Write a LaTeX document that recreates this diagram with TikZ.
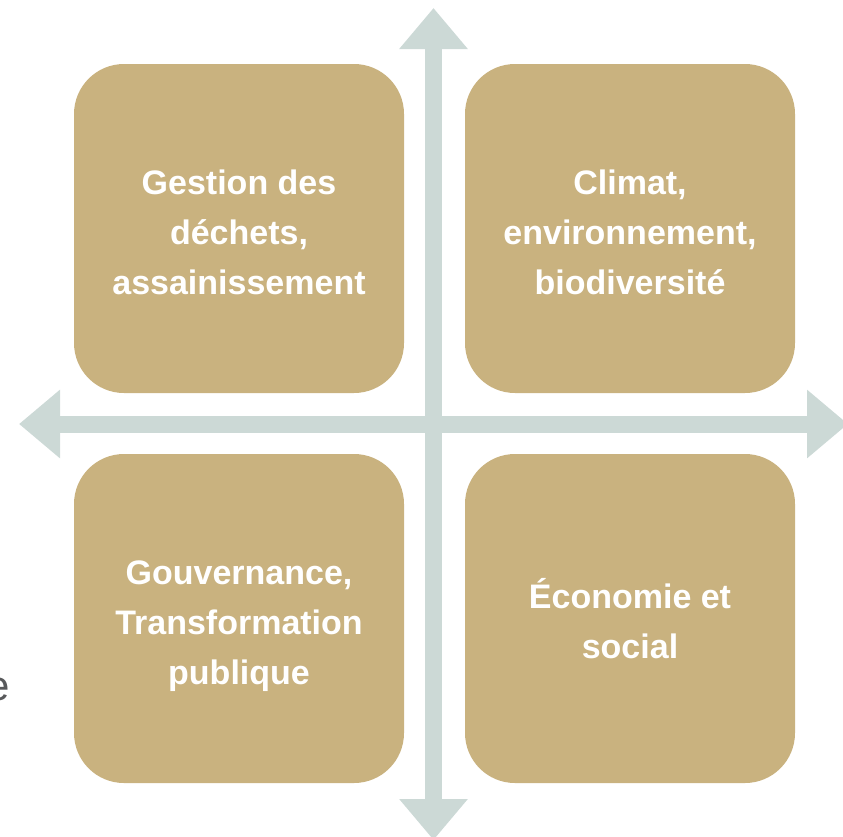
\documentclass[tikz,border=0pt]{standalone}
\usepackage{fontspec}
\setmainfont{Liberation Sans}
\usetikzlibrary{arrows.meta}
\definecolor{boxgold}{HTML}{C9B27F}
\definecolor{axisgray}{HTML}{CCD9D6}
\definecolor{textgray}{HTML}{58595B}
\newcommand\myup[1]{\rule{0pt}{#1}}
\tikzset{
  quad/.style={fill=boxgold, draw=none, rounded corners=50pt, minimum width=330pt, minimum height=329pt,
    text=white, font=\bfseries\fontsize{34}{50}\selectfont, align=center, inner sep=0pt},
  axis/.style={draw=axisgray, line width=17pt, {Triangle[width=66pt,length=41pt]}-{Triangle[width=66pt,length=41pt]}}
}
\begin{document}
\begin{tikzpicture}[x=1pt,y=-1pt]
\useasboundingbox (0,0) rectangle (843,836);
\clip (0,0) rectangle (843,836);
\coordinate (top) at (433.5,8);
\coordinate (bottom) at (433.5,840);
\coordinate (left) at (19,424);
\coordinate (right) at (848,424);
\draw[axis] (top) -- (bottom);
\draw[axis] (left) -- (right);
\node[quad] (q1) at (239,228.5) {\myup{32pt}Gestion des\\déchets,\\assainissement};
\node[quad] (q2) at (630,228.5) {\myup{32pt}Climat,\\environnement,\\biodiversité};
\node[quad] (q3) at (239,618.5) {\myup{40pt}Gouvernance,\\Transformation\\publique};
\node[quad] (q4) at (630,618.5) {Économie et\\social};
\node[anchor=base east, text=textgray, font=\fontsize{42}{50}\selectfont, inner sep=0pt] (e) at (10,700) {e};
\end{tikzpicture}
\end{document}
